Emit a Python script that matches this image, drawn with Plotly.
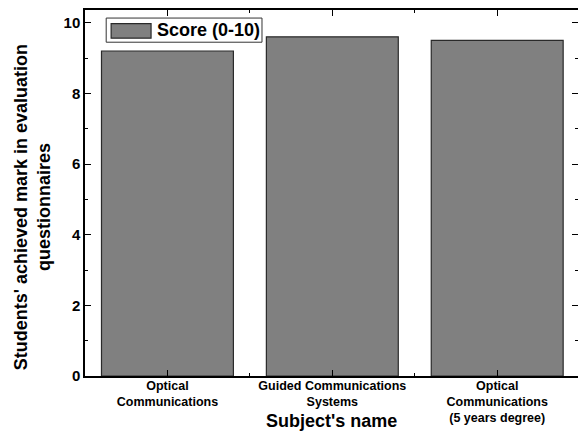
import plotly.graph_objects as go

# Subject scores
subjects = [
    "Optical<br>Communications",
    "Guided Communications<br>Systems",
    "Optical<br>Communications<br>(5 years degree)",
]
positions = [1, 2, 3]
scores = [9.2, 9.6, 9.5]
series_name = "Score (0-10)"

font_family = "Liberation Sans, Arial, sans-serif"
bar_fill = "#808080"
bar_edge = "#2a2a2a"

fig = go.Figure()
fig.add_trace(go.Bar(
    x=positions,
    y=scores,
    width=0.8,
    name=series_name,
    marker=dict(color=bar_fill, line=dict(color=bar_edge, width=1.2)),
    showlegend=False,
))

# Boxed legend with a wide swatch, in plot-area coordinates
fig.add_shape(type="rect", xref="paper", yref="paper",
              x0=0.043, x1=0.359, y0=0.912, y1=0.978,
              line=dict(color="#333333", width=1), fillcolor="white", layer="above")
fig.add_shape(type="rect", xref="paper", yref="paper",
              x0=0.053, x1=0.134, y0=0.923, y1=0.963,
              line=dict(color=bar_edge, width=1.2), fillcolor=bar_fill, layer="above")
fig.add_annotation(text=series_name, xref="paper", yref="paper",
                   x=0.141, y=0.945, xanchor="left", yanchor="middle",
                   showarrow=False,
                   font=dict(size=18, family=font_family, weight="bold", color="black"))

# Axis titles
fig.add_annotation(text="Subject's name", xref="paper", yref="paper",
                   x=0.5, y=-0.124, xanchor="center", yanchor="middle",
                   showarrow=False,
                   font=dict(size=18, family=font_family, weight="bold", color="black"))
fig.add_annotation(text="Students' achieved mark in evaluation<br>questionnaires",
                   xref="paper", yref="paper",
                   x=-0.1075, y=0.461, xanchor="center", yanchor="middle",
                   textangle=-90, showarrow=False,
                   font=dict(size=18, family=font_family, weight="bold", color="black"))

fig.update_layout(
    width=578,
    height=432,
    margin=dict(l=85, r=0, t=10, b=56),
    plot_bgcolor="white",
    paper_bgcolor="white",
    font=dict(family=font_family, color="black"),
    showlegend=False,
    xaxis=dict(
        range=[0.5, 3.49],
        automargin=False,
        tickmode="array",
        tickvals=positions,
        ticktext=subjects,
        ticks="inside",
        ticklen=6,
        tickwidth=1.3,
        tickcolor="black",
        ticklabelstandoff=-3,
        minor=dict(ticks="inside", ticklen=3, tickwidth=1.3, tickcolor="black",
                   tick0=0.5, dtick=1),
        showline=True, linecolor="black", linewidth=1.5, mirror="allticks",
        showgrid=False, zeroline=False,
        tickfont=dict(size=12.5, family=font_family, weight="bold"),
    ),
    yaxis=dict(
        range=[0, 10.36],
        automargin=False,
        tickmode="linear", tick0=0, dtick=2,
        ticks="inside",
        ticklen=6,
        tickwidth=1.3,
        tickcolor="black",
        minor=dict(ticks="inside", ticklen=3, tickwidth=1.3, tickcolor="black",
                   tick0=0, dtick=1),
        showline=True, linecolor="black", linewidth=1.5, mirror="allticks",
        showgrid=False, zeroline=False,
        tickfont=dict(size=15, family=font_family, weight="bold"),
    ),
)

fig.write_html("out.html")
